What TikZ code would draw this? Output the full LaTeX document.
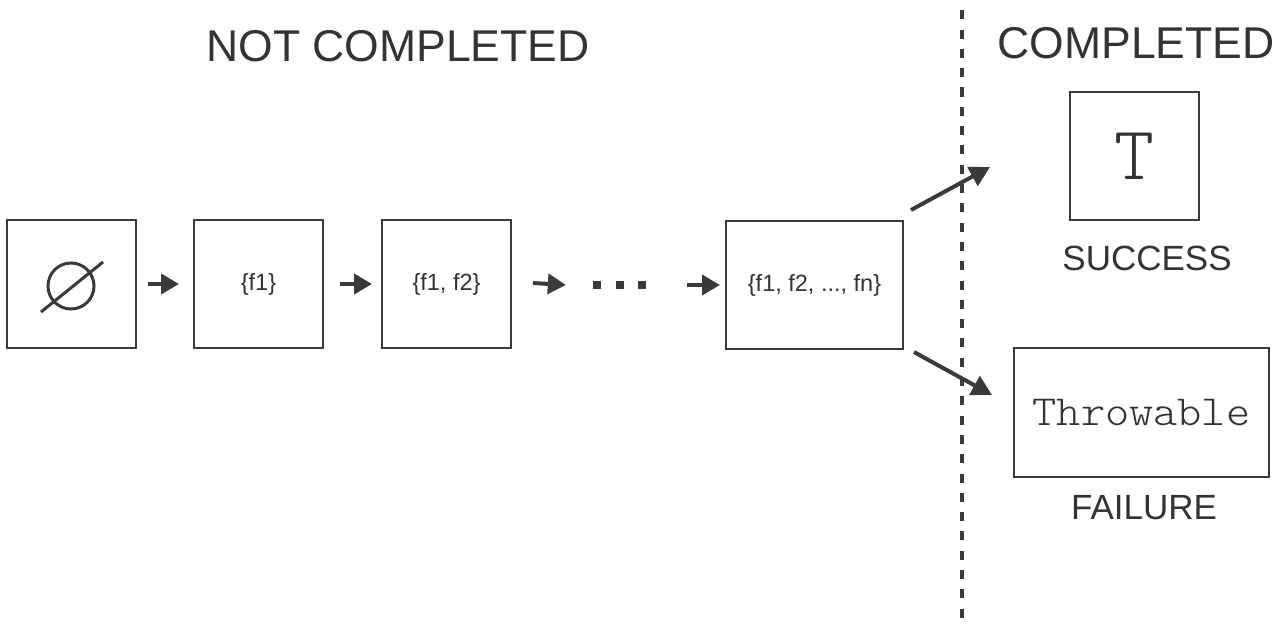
\documentclass[tikz,border=0pt]{standalone}
\usepackage{fontspec}
\setmainfont{Liberation Sans}
\newfontfamily\lightmono{lmmonolt10-regular.otf}
\usetikzlibrary{arrows.meta}
\definecolor{ink}{HTML}{333333}
\definecolor{lineink}{HTML}{3A3A3A}
\begin{document}
\begin{tikzpicture}[x=1pt,y=-1pt,
  box/.style={draw=lineink,line width=2pt,rectangle,inner sep=0pt,minimum height=128pt,text=ink},
  arr/.style={draw=lineink,line width=4pt,-{Triangle[length=18pt,width=20pt]}},
  darr/.style={draw=lineink,line width=4pt,-{Triangle[length=20pt,width=21pt]}},
  head/.style={text=ink,inner sep=0pt,font=\fontsize{44.5}{50}\selectfont},
  lab/.style={text=ink,inner sep=0pt,font=\fontsize{35}{40}\selectfont},
  settext/.style={font=\fontsize{23.5}{28}\selectfont}]
\useasboundingbox (0,0) rectangle (1280,626);
\fill[white] (0,0) rectangle (1280,626);
% headings
\node[head] (nc) at (398,46) {NOT COMPLETED};
\node[head] (cp) at (1136,43) {COMPLETED};
% divider
\coordinate (dtop) at (961.5,-4);
\coordinate (dbot) at (961.5,630);
\draw[lineink,line width=4pt,dash pattern=on 9pt off 10.3pt,dash phase=5pt] (dtop) -- (dbot);
% state boxes
\node[box,minimum width=129pt] (b1) at (71.5,284) {};
\node[box,minimum width=129pt,settext] (b2) at (258.5,284) {\{f1\}};
\node[box,minimum width=129pt,settext] (b3) at (446.5,284) {\{f1, f2\}};
\node[box,minimum width=177pt,settext] (b4) at (814.5,285) {\{f1, f2, ..., fn\}};
% empty set symbol
\draw[lineink,line width=3pt] (71,286) circle (23);
\draw[lineink,line width=3pt] ([shift={(-30.5,28)}]b1.center) -- ([shift={(31.5,-22)}]b1.center);
% ellipsis dots
\node[inner sep=0pt,minimum width=60pt,minimum height=8pt] (dots) at (619.5,285) {};
\fill[lineink] (593,281) rectangle (601,289);
\fill[lineink] (615.5,281) rectangle (623.5,289);
\fill[lineink] (638,281) rectangle (646,289);
% chain arrows
\draw[arr] ([xshift=11pt]b1.east) -- ([xshift=-14pt]b2.west);
\draw[arr] ([xshift=16pt]b2.east) -- ([xshift=-9pt]b3.west);
\draw[arr] ([xshift=21pt,yshift=1pt]b3.east) -- ([xshift=-23.5pt]dots.west);
\draw[arr] ([xshift=37.5pt]dots.east) -- ([xshift=-5pt]b4.west);
% completed boxes
\node[box,minimum width=129pt,font=\lightmono\fontsize{76}{80}\selectfont] (ok) at (1134.5,156) {T};
\node[box,minimum width=255pt,minimum height=129pt,font=\lightmono\fontsize{43}{48}\selectfont] (fail) at (1141.5,412.5) {\scalebox{1.07}[1]{Throwable}};
\node[lab] (oklab) at (1147,258) {SUCCESS};
\node[lab] (faillab) at (1144,508) {FAILURE};
% outcome arrows
\draw[darr] ([shift={(7,-10)}]b4.north east) -- ([shift={(-79,11)}]ok.west);
\draw[darr] ([shift={(10,2)}]b4.south east) -- ([shift={(-21,-17.5)}]fail.west);
\end{tikzpicture}
\end{document}
